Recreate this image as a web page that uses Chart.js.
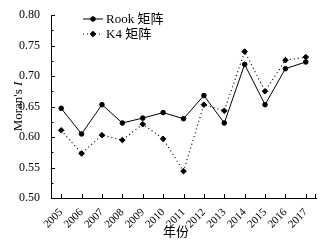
<!DOCTYPE html>
<html lang="zh">
<head>
  <meta charset="UTF-8" />
  <title>Moran's I 2005-2017</title>
  <style>
    body { margin: 0; background: #fff; }
    #wrap { width: 330px; height: 245px; }
  </style>
</head>
<body>
  <div id="wrap"><canvas id="chart"></canvas></div>

  <script src="https://cdn.jsdelivr.net/npm/chart.js"></script>
  <script>
    const years = ['2005','2006','2007','2008','2009','2010','2011','2012','2013','2014','2015','2016','2017'];
    const rookValues = [0.647, 0.605, 0.653, 0.623, 0.631, 0.640, 0.630, 0.668, 0.623, 0.719, 0.653, 0.712, 0.723];
    const k4Values = [0.611, 0.573, 0.603, 0.595, 0.621, 0.597, 0.544, 0.653, 0.643, 0.740, 0.675, 0.726, 0.731];
    const seriesNames = ['Rook 矩阵', 'K4 矩阵'];
    const yTicks = [0.50, 0.55, 0.60, 0.65, 0.70, 0.75, 0.80];
    const xTitle = '年份';

    const serif = "'Liberation Serif', 'Noto Sans CJK SC', serif";

    // inward ticks + legend + axis titles (italic I)
    const extras = {
      id: 'extras',
      afterDraw(chart) {
        const ctx = chart.ctx;
        const a = chart.chartArea;
        const xs = chart.scales.x, ys = chart.scales.y;
        ctx.save();
        ctx.strokeStyle = '#000';
        ctx.lineWidth = 1;
        ctx.beginPath();
        yTicks.forEach((v, i) => {
          const py = Math.round(ys.getPixelForValue(v)) + 0.5;
          ctx.moveTo(a.left, py); ctx.lineTo(a.left + 4, py);
          if (i < yTicks.length - 1) {
            const my = Math.round(ys.getPixelForValue(v + 0.025)) + 0.5;
            ctx.moveTo(a.left, my); ctx.lineTo(a.left + 2.5, my);
          }
        });
        years.forEach((y, i) => {
          const px = Math.round(xs.getPixelForValue(i)) + 0.5;
          ctx.moveTo(px, a.bottom); ctx.lineTo(px, a.bottom - 4);
        });
        ctx.moveTo(a.right - 0.5, a.bottom); ctx.lineTo(a.right - 0.5, a.bottom - 4);
        ctx.stroke();

        // legend
        ctx.font = '13px ' + serif;
        ctx.textBaseline = 'middle';
        ctx.fillStyle = '#000';
        chart.data.datasets.forEach((ds, i) => {
          const ly = 19 + i * 15;
          ctx.save();
          ctx.lineWidth = ds.borderWidth;
          ctx.setLineDash(ds.borderDash || []);
          ctx.beginPath();
          ctx.moveTo(83, ly); ctx.lineTo(103, ly);
          ctx.stroke();
          ctx.restore();
          Chart.helpers.drawPoint(ctx, { pointStyle: ds.pointStyle, radius: ds.pointRadius, borderWidth: 1 }, 93, ly);
          ctx.fillText(seriesNames[i], 106, ly + 1);
        });

        // x axis title
        ctx.font = '13px ' + serif;
        ctx.textAlign = 'center';
        ctx.fillText(xTitle, 176, 233);

        // y axis title
        ctx.translate(19, (a.top + a.bottom) / 2);
        ctx.rotate(-Math.PI / 2);
        const t1 = "Moran's ";
        ctx.font = 'italic 13px ' + serif;
        const w2 = ctx.measureText('I').width;
        ctx.font = '13px ' + serif;
        const w1 = ctx.measureText(t1).width;
        const x0 = -(w1 + w2) / 2;
        ctx.textAlign = 'left';
        ctx.fillText(t1, x0, 0);
        ctx.font = 'italic 13px ' + serif;
        ctx.fillText('I', x0 + w1, 0);
        ctx.restore();
      }
    };

    new Chart(document.getElementById('chart'), {
      type: 'line',
      data: {
        labels: years,
        datasets: [{
          label: seriesNames[0],
          data: rookValues,
          borderColor: '#000',
          backgroundColor: '#000',
          borderWidth: 1,
          pointStyle: 'circle',
          pointRadius: 2.3,
          pointBorderWidth: 1,
          tension: 0
        }, {
          label: seriesNames[1],
          data: k4Values,
          borderColor: '#000',
          backgroundColor: '#000',
          borderWidth: 1.2,
          borderDash: [1, 3],
          pointStyle: 'rectRot',
          pointRadius: 2.8,
          pointBorderWidth: 1,
          tension: 0
        }]
      },
      options: {
        responsive: true,
        maintainAspectRatio: false,
        animation: false,
        layout: { padding: { top: 15, right: 14, left: 0, bottom: 0 } },
        plugins: { legend: { display: false }, tooltip: { enabled: false } },
        scales: {
          x: {
            offset: true,
            grid: { display: false },
            border: { color: '#000', width: 1 },
            ticks: {
              color: '#000', font: { family: serif, size: 11 },
              minRotation: 45, maxRotation: 45, padding: 0, autoSkip: false
            },
            afterFit(s) { s.height = 47; }
          },
          y: {
            min: 0.5, max: 0.8,
            grid: { display: false },
            border: { color: '#000', width: 1 },
            afterBuildTicks(s) { s.ticks = yTicks.map(v => ({ value: v })); },
            ticks: {
              color: '#000', font: { family: serif, size: 12 }, padding: 3,
              callback: v => Number(v).toFixed(2)
            },
            afterFit(s) { s.width = 51; }
          }
        }
      },
      plugins: [extras]
    });
  </script>
</body>
</html>
